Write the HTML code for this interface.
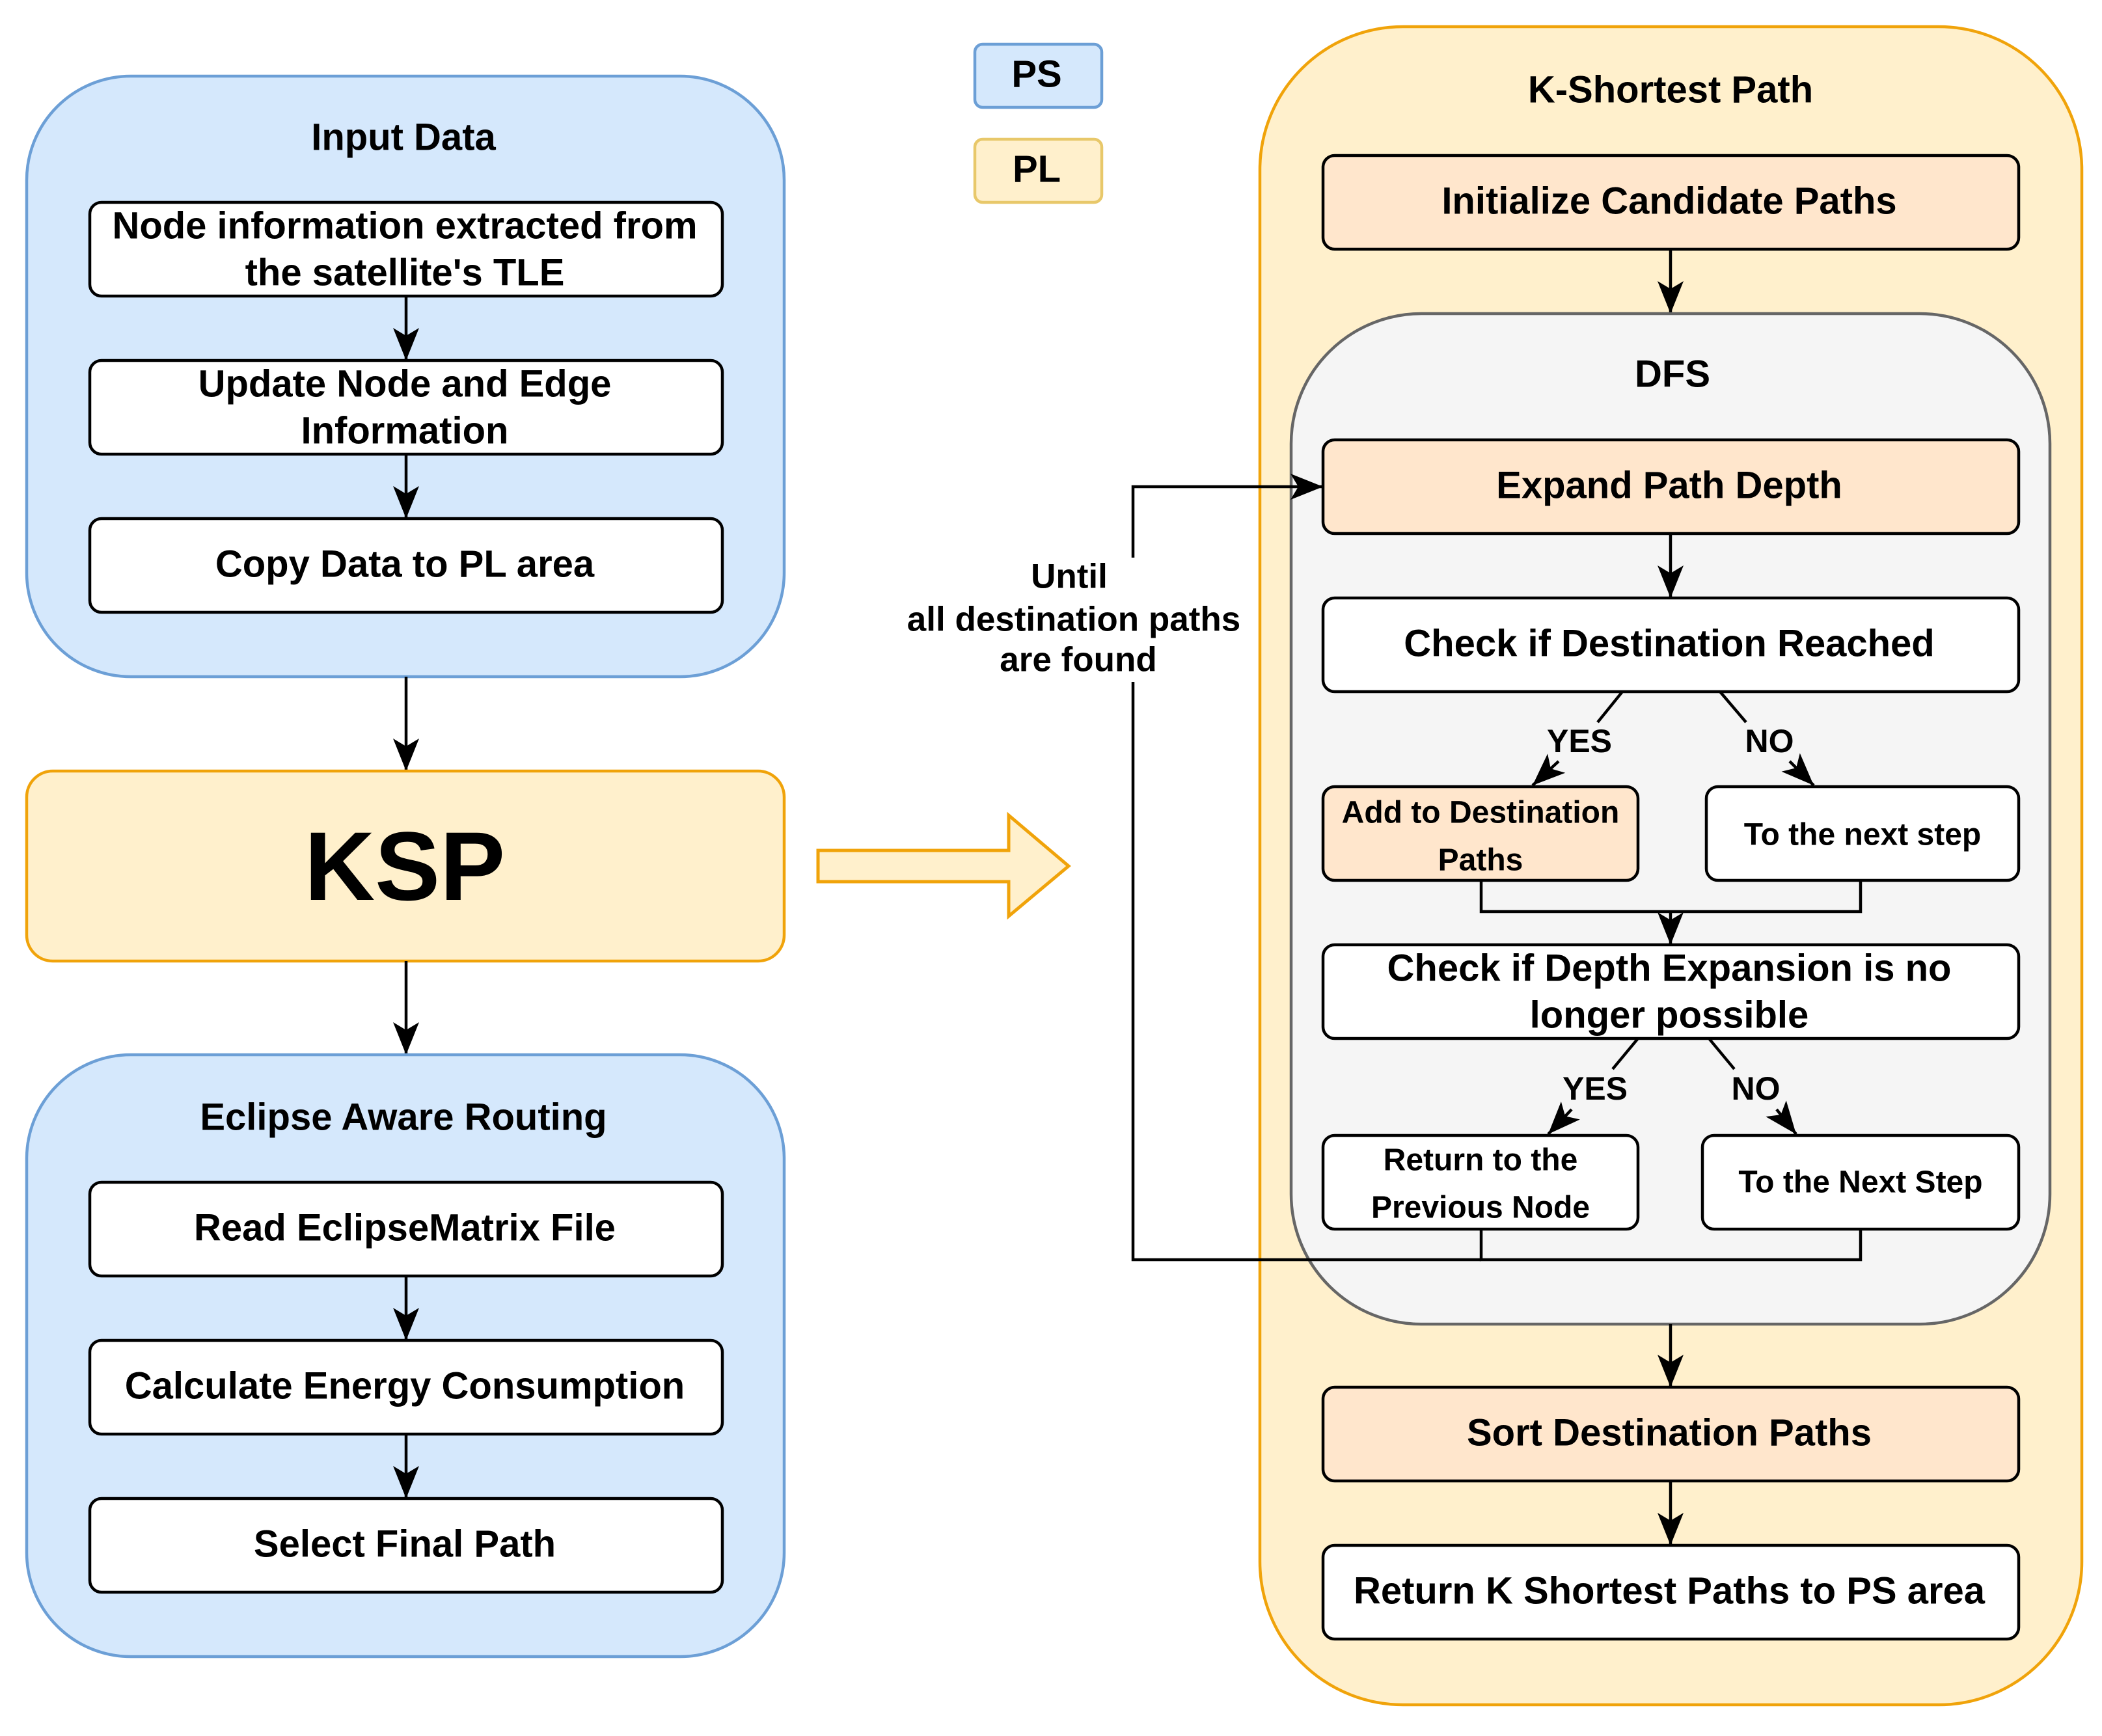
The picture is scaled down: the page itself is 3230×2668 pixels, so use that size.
<!DOCTYPE html>
<html><head><meta charset="utf-8"><style>
html,body{margin:0;padding:0;background:#fff}
svg{display:block}
text{font-family:"Liberation Sans",Arial,sans-serif;font-weight:bold;fill:#000;text-anchor:middle;dominant-baseline:central}
</style></head><body>
<svg width="3230" height="2668" viewBox="0 0 3230 2668" xmlns="http://www.w3.org/2000/svg">
<defs>
<marker id="b" viewBox="0 0 50 40" refX="50" refY="20" markerWidth="50" markerHeight="40" orient="auto" markerUnits="userSpaceOnUse">
<path d="M0,0 L50,20 L0,40 L12,20 Z" fill="#000"/>
</marker>
</defs>
<g stroke-width="4.5">
<!-- Input Data -->
<rect x="41" y="117" width="1164" height="923" rx="160" fill="#d5e8fc" stroke="#6c9fd6"/>
<text x="620" y="211" font-size="58">Input Data</text>
<rect x="138" y="311" width="972" height="144" rx="18" fill="#fff" stroke="#000"/>
<text x="622" y="347" font-size="58">Node information extracted from</text>
<text x="622" y="419" font-size="58">the satellite's TLE</text>
<rect x="138" y="554" width="972" height="144" rx="18" fill="#fff" stroke="#000"/>
<text x="622" y="590" font-size="58">Update Node and Edge</text>
<text x="622" y="662" font-size="58">Information</text>
<rect x="138" y="797" width="972" height="144" rx="18" fill="#fff" stroke="#000"/>
<text x="622" y="867" font-size="58">Copy Data to PL area</text>
<line x1="624" y1="455" x2="624" y2="554" stroke="#000" marker-end="url(#b)"/>
<line x1="624" y1="698" x2="624" y2="797" stroke="#000" marker-end="url(#b)"/>
<line x1="624" y1="1040" x2="624" y2="1185" stroke="#000" marker-end="url(#b)"/>
<!-- KSP -->
<rect x="41" y="1185" width="1164" height="292" rx="40" fill="#fff0cc" stroke="#f0a30a"/>
<text x="622" y="1331" font-size="150">KSP</text>
<line x1="624" y1="1477" x2="624" y2="1621" stroke="#000" marker-end="url(#b)"/>
<!-- Eclipse -->
<rect x="41" y="1621" width="1164" height="925" rx="160" fill="#d5e8fc" stroke="#6c9fd6"/>
<text x="620" y="1717" font-size="58">Eclipse Aware Routing</text>
<rect x="138" y="1817" width="972" height="144" rx="18" fill="#fff" stroke="#000"/>
<text x="622" y="1887" font-size="58">Read EclipseMatrix File</text>
<rect x="138" y="2060" width="972" height="144" rx="18" fill="#fff" stroke="#000"/>
<text x="622" y="2130" font-size="58">Calculate Energy Consumption</text>
<rect x="138" y="2303" width="972" height="144" rx="18" fill="#fff" stroke="#000"/>
<text x="622" y="2373" font-size="58">Select Final Path</text>
<line x1="624" y1="1961" x2="624" y2="2060" stroke="#000" marker-end="url(#b)"/>
<line x1="624" y1="2204" x2="624" y2="2303" stroke="#000" marker-end="url(#b)"/>
<!-- legend -->
<rect x="1498" y="68" width="195" height="97" rx="12" fill="#d5e8fc" stroke="#6c9fd6"/>
<text x="1593" y="114" font-size="58">PS</text>
<rect x="1498" y="214" width="195" height="97" rx="12" fill="#fff0cc" stroke="#e8c86a"/>
<text x="1593" y="260" font-size="58">PL</text>
<!-- big arrow -->
<path d="M1257,1307 L1550,1307 L1550,1253 L1642,1331 L1550,1408 L1550,1355 L1257,1355 Z" fill="#fff0cc" stroke="#f0a30a" stroke-width="5"/>
<!-- K-Shortest -->
<rect x="1936" y="41" width="1263" height="2579" rx="220" fill="#fff0cc" stroke="#f0a30a"/>
<text x="2567" y="138" font-size="58">K-Shortest Path</text>
<rect x="2033" y="239" width="1069" height="144" rx="18" fill="#ffe6cc" stroke="#000"/>
<text x="2565" y="309" font-size="58">Initialize Candidate Paths</text>
<line x1="2567" y1="383" x2="2567" y2="482" stroke="#000" marker-end="url(#b)"/>
<!-- DFS -->
<rect x="1984" y="482" width="1166" height="1553" rx="200" fill="#f5f5f5" stroke="#666"/>
<text x="2570" y="575" font-size="58">DFS</text>
<rect x="2033" y="676" width="1069" height="144" rx="18" fill="#ffe6cc" stroke="#000"/>
<text x="2565" y="746" font-size="58">Expand Path Depth</text>
<line x1="2567" y1="820" x2="2567" y2="919" stroke="#000" marker-end="url(#b)"/>
<rect x="2033" y="919" width="1069" height="144" rx="18" fill="#fff" stroke="#000"/>
<text x="2565" y="989" font-size="58">Check if Destination Reached</text>
<rect x="2033" y="1209" width="484" height="144" rx="18" fill="#ffe6cc" stroke="#000"/>
<text x="2275" y="1249" font-size="48">Add to Destination</text>
<text x="2275" y="1322" font-size="48">Paths</text>
<rect x="2622" y="1209" width="480" height="144" rx="18" fill="#fff" stroke="#000"/>
<text x="2862" y="1283" font-size="48">To the next step</text>
<line x1="2493" y1="1063" x2="2455" y2="1110" stroke="#000"/>
<line x1="2395" y1="1170" x2="2355" y2="1207" stroke="#000" marker-end="url(#b)"/>
<text x="2427" y="1139" font-size="50">YES</text>
<line x1="2643" y1="1063" x2="2683" y2="1110" stroke="#000"/>
<line x1="2750" y1="1170" x2="2787" y2="1207" stroke="#000" marker-end="url(#b)"/>
<text x="2719" y="1139" font-size="50">NO</text>
<polyline points="2276,1353 2276,1401 2859,1401 2859,1353" fill="none" stroke="#000"/>
<line x1="2567" y1="1401" x2="2567" y2="1452" stroke="#000" marker-end="url(#b)"/>
<rect x="2033" y="1452" width="1069" height="144" rx="18" fill="#fff" stroke="#000"/>
<text x="2565" y="1488" font-size="58">Check if Depth Expansion is no</text>
<text x="2565" y="1560" font-size="58">longer possible</text>
<line x1="2517" y1="1596" x2="2478" y2="1643" stroke="#000"/>
<line x1="2415" y1="1705" x2="2379" y2="1743" stroke="#000" marker-end="url(#b)"/>
<text x="2451" y="1673" font-size="50">YES</text>
<line x1="2626" y1="1596" x2="2665" y2="1643" stroke="#000"/>
<line x1="2730" y1="1705" x2="2760" y2="1743" stroke="#000" marker-end="url(#b)"/>
<text x="2698" y="1673" font-size="50">NO</text>
<rect x="2033" y="1745" width="484" height="144" rx="18" fill="#fff" stroke="#000"/>
<text x="2275" y="1783" font-size="48">Return to the</text>
<text x="2275" y="1856" font-size="48">Previous Node</text>
<rect x="2616" y="1745" width="486" height="144" rx="18" fill="#fff" stroke="#000"/>
<text x="2859" y="1817" font-size="48">To the Next Step</text>
<polyline points="2276,1889 2276,1936 2859,1936 2859,1889" fill="none" stroke="#000"/>
<polyline points="2276,1936 1741,1936 1741,1048" fill="none" stroke="#000"/>
<polyline points="1741,857 1741,748 2033,748" fill="none" stroke="#000" marker-end="url(#b)"/>
<text x="1643" y="886" font-size="53">Until</text>
<text x="1650" y="952" font-size="53">all destination paths</text>
<text x="1657" y="1014" font-size="53">are found</text>
<line x1="2567" y1="2035" x2="2567" y2="2132" stroke="#000" marker-end="url(#b)"/>
<rect x="2033" y="2132" width="1069" height="144" rx="18" fill="#ffe6cc" stroke="#000"/>
<text x="2565" y="2202" font-size="58">Sort Destination Paths</text>
<line x1="2567" y1="2276" x2="2567" y2="2375" stroke="#000" marker-end="url(#b)"/>
<rect x="2033" y="2375" width="1069" height="144" rx="18" fill="#fff" stroke="#000"/>
<text x="2565" y="2445" font-size="58">Return K Shortest Paths to PS area</text>
</g>
</svg>
</body></html>
